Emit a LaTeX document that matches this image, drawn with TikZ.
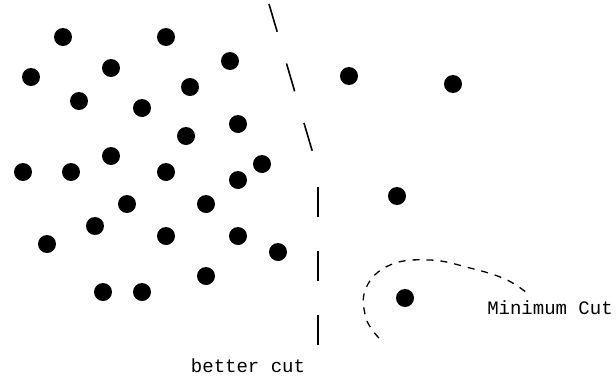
\documentclass[tikz,border=0pt]{standalone}
\usepackage{fontspec}
\setmonofont{Liberation Mono}
\usepackage{tikz}
\usetikzlibrary{positioning}

\begin{document}
\begin{tikzpicture}[
  x=1pt,y=-1pt,
  dot/.style={circle,fill=black,inner sep=0pt,minimum size=18pt},
  cutline/.style={line width=1.6pt,dash pattern=on 29pt off 33pt},
  mincut/.style={line width=1.3pt,dash pattern=on 7pt off 7pt},
  cutlabel/.style={font=\ttfamily\fontsize{19}{21}\selectfont,inner sep=0pt}
]
\useasboundingbox (0,0) rectangle (616,378);
% left cluster
\foreach \px/\py [count=\i] in {63/37,166/37,230/61,31/77,111/68,190/87,79/101,142/108,
  238/124,186/136,111/156,262/164,23/172,71/172,166/172,238/180,127/204,206/204,
  95/226,47/244,166/236,238/236,278/252,206/276,103/292,142/292}
  \node[dot] (l\i) at (\px,\py) {};
% right side
\node[dot] (r1) at (349,76) {};
\node[dot] (r2) at (453,84) {};
\node[dot] (r3) at (397,196) {};
\node[dot] (r4) at (405,298) {};

% cuts
\coordinate (ctop) at (269,4);
\coordinate (cbot) at (314,157);
\draw[cutline] (ctop) -- (cbot);
\coordinate (btop) at (318,187);
\coordinate (bbot) at (318,345);
\draw[cutline,dash pattern=on 30pt off 34pt] (btop) -- (bbot);
\draw[mincut] plot[smooth,tension=0.7] coordinates {(379,338) (366,318) (366,288) (390,265) (430,260) (470,268) (505,279) (527,293)};

\node[cutlabel] (better) at (248,366) {better cut};
\node[cutlabel] (minimum) at (550,308) {Minimum Cut};
\end{tikzpicture}
\end{document}
